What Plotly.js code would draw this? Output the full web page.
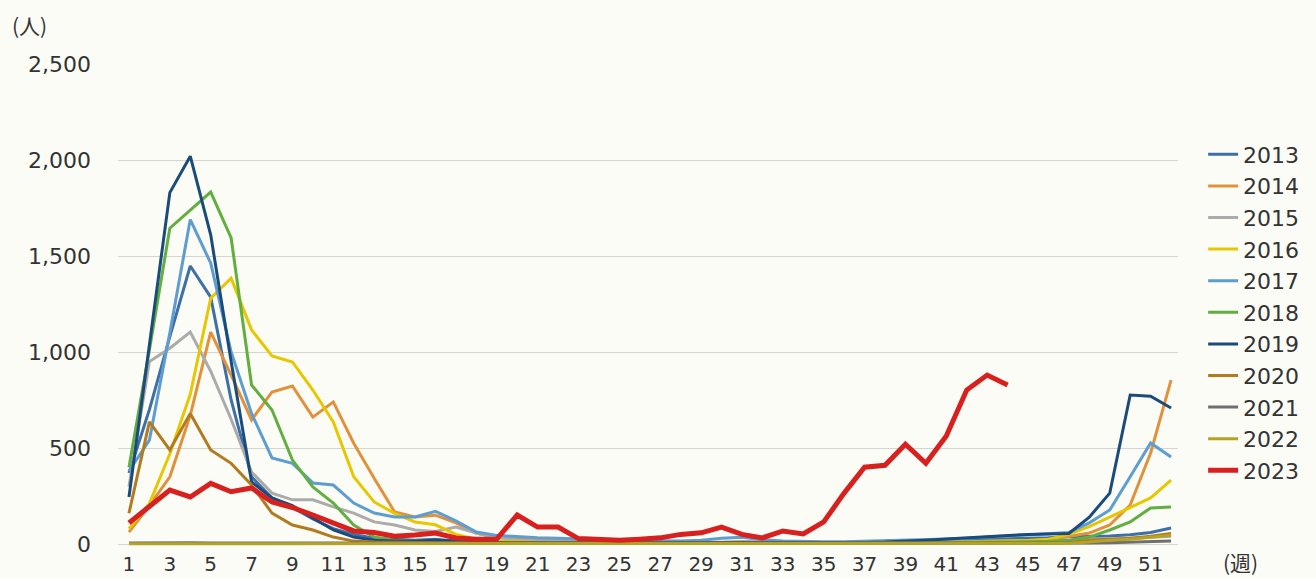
<!DOCTYPE html>
<html>
<head>
<meta charset="utf-8">
<script src="https://cdn.plot.ly/plotly-3.0.1.min.js"></script>
<style>
  html, body { margin: 0; padding: 0; background: #fcfcf7; }
  #chart { width: 1316px; height: 579px; }
</style>
</head>
<body>
<div id="chart"></div>
<script>
const weeks = [1,2,3,4,5,6,7,8,9,10,11,12,13,14,15,16,17,18,19,20,21,22,23,24,25,26,27,28,29,30,31,32,33,34,35,36,37,38,39,40,41,42,43,44,45,46,47,48,49,50,51,52];
const tickWeeks = [1,3,5,7,9,11,13,15,17,19,21,23,25,27,29,31,33,35,37,39,41,43,45,47,49,51];
const yTicks = [0,500,1000,1500,2000,2500];

const y2013 = [370,700,1080,1448,1286,750,350,240,190,130,80,50,30,25,20,25,15,12,10,10,8,8,6,5,5,5,5,5,6,8,10,8,6,6,5,6,8,10,12,15,20,22,25,25,28,32,38,40,42,48,60,83];
const y2014 = [62,200,350,670,1104,880,646,792,823,661,740,525,343,167,141,150,110,55,35,28,20,18,15,12,10,10,8,8,8,10,10,8,8,6,6,6,8,10,10,10,12,12,14,15,18,22,40,57,99,203,474,854];
const y2015 = [300,950,1020,1104,900,650,375,265,230,230,193,161,115,99,73,65,88,57,35,20,15,12,10,10,8,8,8,8,8,10,10,8,6,6,6,6,8,8,10,10,12,12,14,14,15,16,20,25,25,30,35,40];
const y2016 = [80,210,470,780,1280,1385,1115,980,948,802,636,350,219,160,115,100,50,25,15,10,8,6,5,5,5,5,5,5,5,6,6,5,5,5,5,5,6,6,6,8,8,10,12,14,18,25,50,90,141,188,240,333];
const y2017 = [380,541,1100,1690,1463,1000,680,448,420,318,307,213,161,141,141,170,120,62,45,38,32,30,26,22,20,18,16,16,20,30,35,22,15,12,12,12,14,16,18,22,26,30,36,42,48,55,60,110,177,350,526,453];
const y2018 = [400,1010,1645,1740,1833,1594,828,698,437,297,213,99,36,20,15,20,10,8,6,5,5,4,4,4,3,3,3,3,3,4,4,4,4,4,4,4,5,5,6,6,8,8,10,10,12,14,20,36,73,115,188,193];
const y2019 = [245,1040,1830,2020,1610,950,323,240,200,135,73,36,20,15,15,20,15,10,8,6,6,5,5,5,5,5,5,5,5,6,6,6,6,6,6,6,8,10,14,20,26,32,36,45,50,52,55,140,265,776,770,708];
const y2020 = [160,636,490,680,490,420,307,161,99,73,36,15,10,8,6,5,5,4,4,3,3,3,3,3,3,3,3,3,3,3,3,3,3,3,3,3,3,3,3,3,3,3,3,4,4,5,8,20,25,30,40,55];
const y2021 = [5,6,6,6,5,5,4,4,3,3,2,2,2,2,2,2,2,2,2,2,2,2,2,2,2,2,2,2,2,2,2,2,2,2,2,2,2,2,2,2,2,2,2,2,2,3,4,5,6,8,10,15];
const y2022 = [1,1,1,1,1,1,1,1,1,1,1,1,1,1,1,1,1,1,1,1,1,1,1,1,1,1,1,1,1,1,1,1,1,1,1,1,1,1,1,1,1,1,1,1,1,2,4,10,20,25,35,45];
const y2023 = [110,195,281,245,316,272,292,219,190,151,109,68,60,40,47,57,31,25,26,151,88,88,28,22,20,25,32,50,58,88,50,32,68,52,115,265,400,410,520,420,563,802,880,828];

const seriesNames = ['2013','2014','2015','2016','2017','2018','2019','2020','2021','2022','2023'];
const seriesValues = [y2013,y2014,y2015,y2016,y2017,y2018,y2019,y2020,y2021,y2022,y2023];
const colors = ['#3d6fa9','#e2913b','#ababab','#e6c700','#5d9dd0','#62ae40','#1b4b7b','#b27b20','#6f6f6f','#b5a325','#d8201f'];
const widths = [3,3,3,3,3,3,3,3,3,3,5];

const traces = seriesNames.map((name, i) => ({
  type: 'scatter',
  mode: 'lines',
  name: name,
  x: weeks.slice(0, seriesValues[i].length),
  y: seriesValues[i],
  line: { color: colors[i], width: widths[i] },
  hoverinfo: 'x+y+name'
}));

const fontFam = 'DejaVu Sans, Liberation Sans, sans-serif';

const layout = {
  width: 1316,
  height: 579,
  paper_bgcolor: '#fcfcf7',
  plot_bgcolor: '#fcfcf7',
  margin: { l: 118, r: 136, t: 64, b: 29, pad: 0 },
  font: { family: fontFam, color: '#333333', size: 21 },
  showlegend: true,
  legend: {
    x: 1.0237, xanchor: 'left',
    y: 0.857, yanchor: 'top',
    bgcolor: 'rgba(0,0,0,0)',
    font: { family: fontFam, size: 22, color: '#333333' },
    tracegroupgap: 0,
    itemwidth: 30
  },
  xaxis: {
    range: [0.463, 52.34],
    tickmode: 'array',
    tickvals: tickWeeks,
    ticktext: tickWeeks.map(String),
    showgrid: false,
    zeroline: false,
    showline: false,
    ticks: '',
    ticklabelstandoff: 0,
    tickfont: { family: fontFam, size: 20, color: '#333333' }
  },
  yaxis: {
    range: [-31.25, 2500],
    tickmode: 'array',
    tickvals: yTicks,
    ticktext: yTicks.map(v => v.toLocaleString('en-US')),
    showgrid: true,
    gridcolor: '#d4d4d0',
    gridwidth: 1,
    zeroline: false,
    showline: false,
    ticks: '',
    ticklabelstandoff: 26,
    tickfont: { family: fontFam, size: 22, color: '#333333' }
  },
  annotations: [
    { text: '(人)', xref: 'paper', yref: 'paper', x: -0.1017, y: 1.08, xanchor: 'left', yanchor: 'middle', showarrow: false, font: { family: 'Noto Sans CJK JP, ' + fontFam, size: 21, color: '#333333' } },
    { text: '(週)', xref: 'paper', yref: 'paper', x: 1.041, y: -0.024, xanchor: 'left', yanchor: 'middle', showarrow: false, font: { family: 'Noto Sans CJK JP, ' + fontFam, size: 21, color: '#333333' } }
  ]
};

Plotly.newPlot('chart', traces, layout, { displayModeBar: false, staticPlot: true });
</script>
</body>
</html>
